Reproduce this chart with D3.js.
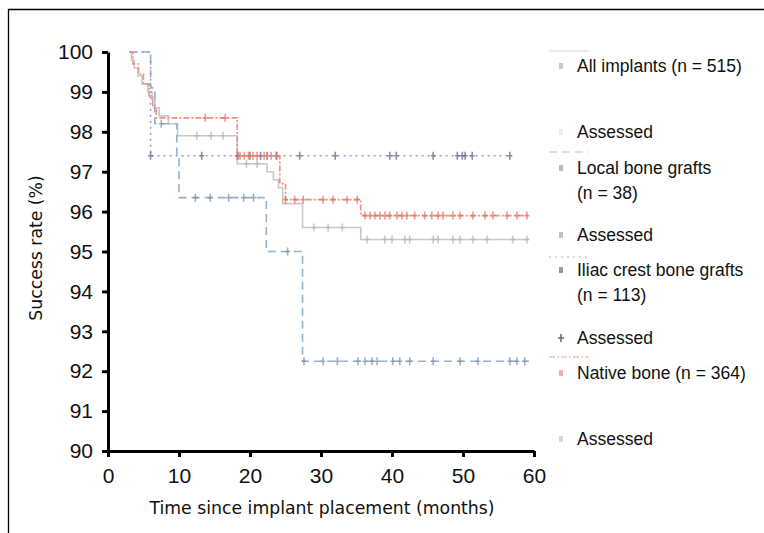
<!DOCTYPE html>
<html>
<head>
<meta charset="utf-8">
<script src="https://cdn.jsdelivr.net/npm/d3@7"></script>
<style>
  body { margin: 0; background: #fff; }
  svg { display: block; }
</style>
</head>
<body>
<div id="chart"></div>
<script>
(function km(){

// step points [month, success %]
const allSteps = [[3,100],[3.3,99.8],[3.7,99.6],[4.2,99.4],[4.8,99.2],[5.6,99.0],[6.2,98.8],[6.6,98.6],[7.2,98.4],[8.5,98.2],[9.8,97.9],[18.2,97.2],[22.4,97.0],[23.3,96.8],[24.0,96.6],[24.6,96.2],[27.4,95.6],[35.6,95.3],[59.3,95.3]];
const allCensored = [12.5,14.5,16.2,19.5,21,29,31,33,36.5,39,40,41.8,42.5,45.8,46.5,48.6,49.6,51.4,53.4,57,59];

const localSteps = [[3,100],[6,99.1],[6.6,98.2],[9.7,97.35],[10,96.35],[22.3,95.0],[27.4,92.25],[59.3,92.25]];
const localCensored = [7.5,12.3,14.4,17,19.1,20.5,25.3,27.6,30.3,32.3,35.2,36.2,37.2,37.9,40.1,41.1,42.5,45.8,49.6,52.1,56.6,57.6,58.7];

const iliacSteps = [[3,100],[6,97.4],[56.9,97.4]];
const iliacCensored = [6,13.2,18.3,20,21.5,22.4,23.7,27.0,32.0,39.7,40.6,45.8,49.2,49.9,50.3,51.3,56.6];

const nativeSteps = [[3,100],[3.5,99.7],[4.3,99.45],[5,99.2],[5.8,98.9],[6.3,98.6],[6.8,98.35],[18.2,97.4],[24.2,96.7],[25,96.3],[35.6,95.9],[59.3,95.9]];
const nativeCensored = [13.7,16.5,18.2,18.6,19.2,19.8,20.4,21,22,23,23.8,25,26.3,27.5,30.3,31.7,33.7,35.1,36.2,36.9,37.6,38.3,39.0,39.7,40.7,41.4,42.1,43.2,44.6,45.6,46.5,47.2,48.6,49.6,51.4,53.1,54.2,56.2,57.6,59.0];

const xTicks = [0,10,20,30,40,50,60];
const yTicks = [90,91,92,93,94,95,96,97,98,99,100];

const series = [
  { name: "All implants (n = 515)", steps: allSteps, cens: allCensored, color: "#c8c8c8", mark: "#b4b4b4", dash: null },
  { name: "Local bone grafts", steps: localSteps, cens: localCensored, color: "#92b2d0", mark: "#7590ac", dash: "8,5" },
  { name: "Iliac crest bone grafts", steps: iliacSteps, cens: iliacCensored, color: "#9a9ac4", mark: "#5c5c88", dash: "2,4" },
  { name: "Native bone (n = 364)", steps: nativeSteps, cens: nativeCensored, color: "#f09080", mark: "#e8705c", dash: "6,2,2,2" }
];

let width = 764, height = 533;

const svg = d3.select("#chart")
  .append("svg")
  .attr("width", width)
  .attr("height", height);

// frame (top and left only)
svg.append("path")
  .attr("d", `M8.5,${height} V9.5 H${width}`)
  .attr("fill", "none")
  .attr("stroke", "#000")
  .attr("stroke-width", 1.3);

let x = d3.scaleLinear().domain([0, 60]).range([108, 534]);
let y = d3.scaleLinear().domain([90, 100]).range([451, 52]);

function stepValue(steps, m) {
  let v = steps[0][1];
  steps.forEach(s => { if (s[0] <= m) v = s[1]; });
  return v;
}

const line = d3.line()
  .x(d => x(d[0]))
  .y(d => y(d[1]))
  .curve(d3.curveStepAfter);

const plot = svg.append("g");

series.forEach(s => {
  plot.append("path")
    .datum(s.steps)
    .attr("fill", "none")
    .attr("stroke", s.color)
    .attr("stroke-width", 1.6)
    .attr("stroke-dasharray", s.dash)
    .attr("d", line);

  plot.append("g")
    .selectAll("path")
    .data(s.cens)
    .join("path")
    .attr("transform", d => `translate(${x(d)},${y(stepValue(s.steps, d))})`)
    .attr("d", "M0,-4V4M-2.5,0H2.5")
    .attr("stroke", s.mark)
    .attr("stroke-width", 1.6)
    .attr("opacity", 0.7);
});

// axes
const xAxis = svg.append("g")
  .attr("transform", `translate(0,${y(90)})`)
  .call(d3.axisBottom(x).tickValues(xTicks).tickSize(6).tickPadding(11).tickSizeOuter(0));

const yAxis = svg.append("g")
  .attr("transform", `translate(${x(0)},0)`)
  .call(d3.axisLeft(y).tickValues(yTicks).tickSize(6).tickPadding(9).tickSizeOuter(0));

[xAxis, yAxis].forEach(a => {
  a.select(".domain").attr("stroke", "#000").attr("stroke-width", 3);
  a.selectAll(".tick line").attr("stroke", "#000").attr("stroke-width", 3);
  a.selectAll(".tick text")
    .attr("fill", "#111")
    .attr("font-family", "'Liberation Sans', Arial, sans-serif")
    .attr("font-size", 21);
});

svg.append("text")
  .attr("x", 322)
  .attr("y", 514)
  .attr("text-anchor", "middle")
  .style("font-family", "'DejaVu Sans', Verdana, sans-serif")
  .style("font-size", "17.3px")
  .attr("fill", "#111")
  .text("Time since implant placement (months)");

svg.append("text")
  .attr("transform", "translate(42,248) rotate(-90)")
  .attr("text-anchor", "middle")
  .style("font-family", "'DejaVu Sans', Verdana, sans-serif")
  .style("font-size", "17.3px")
  .attr("fill", "#111")
  .text("Success rate (%)");

// legend
const legendRows = [
  { t: ["All implants (n = 515)"], y: 66, sample: 0, sy: 51, mk: "#c8c8c8" },
  { t: ["Assessed"], y: 132, mk: "#eeeeee" },
  { t: ["Local bone grafts", "(n = 38)"], y: 168, sample: 1, sy: 152, mk: "#b8b8c0" },
  { t: ["Assessed"], y: 235, mk: "#c0c0c0" },
  { t: ["Iliac crest bone grafts", "(n = 113)"], y: 270, sample: 2, sy: 257, mk: "#9a9aa8" },
  { t: ["Assessed"], y: 338, mk: "#666677", cross: true },
  { t: ["Native bone (n = 364)"], y: 373, sample: 3, sy: 357, mk: "#f0b0a8" },
  { t: ["Assessed"], y: 439, mk: "#d8d8d8" }
];

const legend = svg.append("g");

legendRows.forEach(r => {
  if (r.sample !== undefined) {
    const s = series[r.sample];
    legend.append("line")
      .attr("x1", 549).attr("x2", 589)
      .attr("y1", r.sy).attr("y2", r.sy)
      .attr("stroke", s.color)
      .attr("stroke-width", 1.5)
      .attr("stroke-dasharray", s.dash)
      .attr("opacity", 0.5);
  }
  if (r.cross) {
    legend.append("path")
      .attr("transform", `translate(561,${r.y})`)
      .attr("d", "M0,-4V4M-3,0H3")
      .attr("stroke", r.mk)
      .attr("stroke-width", 1.5);
  } else {
    legend.append("rect")
      .attr("x", 559).attr("y", r.y - 3)
      .attr("width", 4).attr("height", 6)
      .attr("fill", r.mk);
  }
  r.t.forEach((line, i) => {
    legend.append("text")
      .attr("x", 577)
      .attr("y", r.y + i * 25)
      .attr("dy", "0.35em")
      .style("font-family", "'Liberation Sans', Arial, sans-serif")
      .style("font-size", "17.5px")
      .attr("fill", "#111")
      .text(line);
  });
});

})();
</script>
</body>
</html>
